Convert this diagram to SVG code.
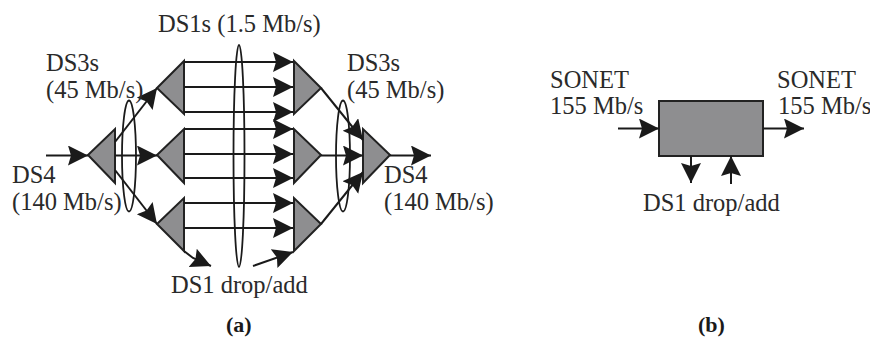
<svg xmlns="http://www.w3.org/2000/svg" width="870" height="338" viewBox="0 0 870 338">
<style>
.t{font-family:"Liberation Serif","Times New Roman",serif;font-size:24.5px;fill:#2a2a2a}
.b{font-family:"Liberation Serif","Times New Roman",serif;font-size:22px;font-weight:bold;fill:#1a1a1a}
.n{fill:#8e8e90;stroke:#222;stroke-width:2;stroke-linejoin:miter}
.c line,.c polyline{stroke:#1a1a1a;stroke-width:2;fill:none;marker-end:url(#a)}
.e{fill:none;stroke:#1a1a1a;stroke-width:1.8}
</style>
<defs>
<marker id="a" markerUnits="userSpaceOnUse" markerWidth="22" markerHeight="22" refX="20" refY="10" orient="auto">
<path d="M0 0L20 10L0 20L3 10Z" fill="#1a1a1a"/>
</marker>
</defs>
<rect width="870" height="338" fill="#fff"/>
<g id="mux-in"><polygon class="n" points="88,155 115,129 115,183"/></g>
<g id="ds3-l1"><polygon class="n" points="157,88 184,61 184,114"/></g>
<g id="ds3-l2"><polygon class="n" points="157,155 184,129 184,183"/></g>
<g id="ds3-l3"><polygon class="n" points="157,224 184,198 184,251"/></g>
<g id="ds3-r1"><polygon class="n" points="321,88 294,61 294,114"/></g>
<g id="ds3-r2"><polygon class="n" points="321,155 294,129 294,183"/></g>
<g id="ds3-r3"><polygon class="n" points="321,224 294,198 294,251"/></g>
<g id="mux-out"><polygon class="n" points="390,155 363,129 363,183"/></g>
<g id="adm"><rect class="n" x="659" y="101" width="104" height="55"/></g>
<g id="connectors" class="c">
<line x1="46" y1="155.500" x2="88" y2="155.500"/>
<line x1="115" y1="142" x2="157" y2="88"/>
<line x1="115" y1="155.500" x2="157" y2="155.500"/>
<line x1="115" y1="170" x2="157" y2="224"/>
<polyline points="184,251 193,258 211,266"/>
<line x1="184" y1="62" x2="293" y2="62"/>
<line x1="184" y1="87" x2="293" y2="87"/>
<line x1="184" y1="112" x2="293" y2="112"/>
<line x1="184" y1="129" x2="293" y2="129"/>
<line x1="184" y1="154" x2="293" y2="154"/>
<line x1="184" y1="178" x2="293" y2="178"/>
<line x1="184" y1="203" x2="293" y2="203"/>
<line x1="184" y1="228" x2="293" y2="228"/>
<line x1="253" y1="266" x2="293" y2="252"/>
<line x1="321" y1="88" x2="363" y2="140"/>
<line x1="321" y1="155.500" x2="363" y2="155.500"/>
<line x1="321" y1="224" x2="363" y2="172"/>
<line x1="390" y1="155.500" x2="431" y2="155.500"/>
<line x1="618" y1="128.500" x2="659" y2="128.500"/>
<line x1="763" y1="128.500" x2="804" y2="128.500"/>
<line x1="691" y1="156" x2="691" y2="183"/>
<line x1="731" y1="184" x2="731" y2="156"/>
</g>
<g id="groupings">
<ellipse class="e" cx="239" cy="156" rx="5.500" ry="111"/>
<ellipse class="e" cx="129" cy="156" rx="7" ry="55.500"/>
<ellipse class="e" cx="343" cy="156" rx="7" ry="55.500"/>
</g>
<g id="labels">
<text class="t" x="158" y="32">DS1s (1.5 Mb/s)</text>
<text class="t" x="46" y="71">DS3s</text>
<text class="t" x="46" y="98">(45 Mb/s)</text>
<text class="t" x="12" y="183">DS4</text>
<text class="t" x="12" y="210">(140 Mb/s)</text>
<text class="t" x="347" y="71">DS3s</text>
<text class="t" x="347" y="98">(45 Mb/s)</text>
<text class="t" x="384" y="183">DS4</text>
<text class="t" x="384" y="210">(140 Mb/s)</text>
<text class="t" x="171" y="293">DS1 drop/add</text>
<text class="t" x="550" y="88">SONET</text>
<text class="t" x="550" y="114">155 Mb/s</text>
<text class="t" x="777" y="88">SONET</text>
<text class="t" x="778" y="114">155 Mb/s</text>
<text class="t" x="643" y="211">DS1 drop/add</text>
<text class="b" x="226" y="332">(a)</text>
<text class="b" x="698" y="332">(b)</text>
</g>
</svg>
